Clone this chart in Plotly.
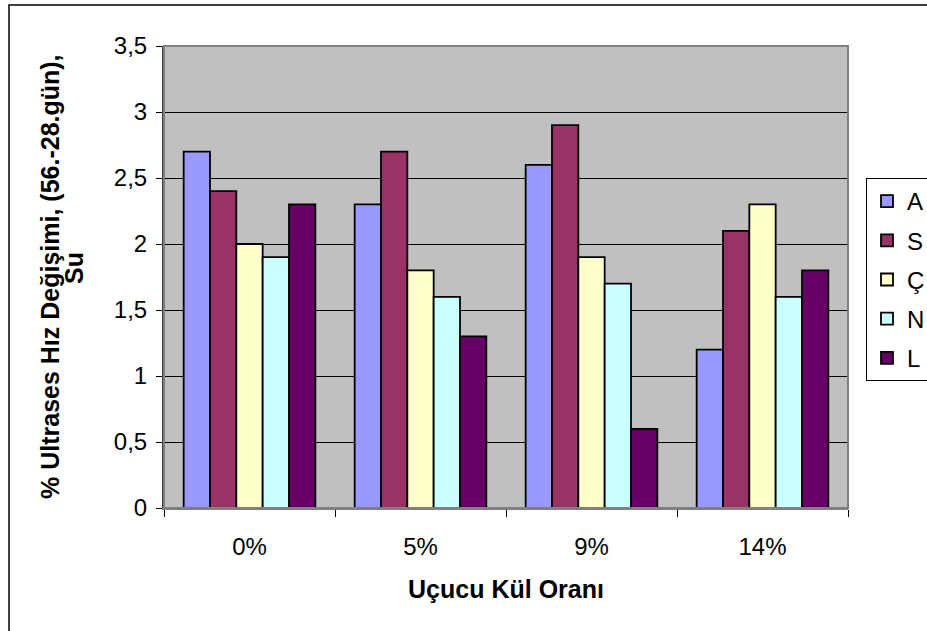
import plotly.graph_objects as go

categories = ["0%", "5%", "9%", "14%"]
series_names = ["A", "S", "Ç", "N", "L"]
values_A = [2.7, 2.3, 2.6, 1.2]
values_S = [2.4, 2.7, 2.9, 2.1]
values_C = [2.0, 1.8, 1.9, 2.3]
values_N = [1.9, 1.6, 1.7, 1.6]
values_L = [2.3, 1.3, 0.6, 1.8]
y_ticks = [0, 0.5, 1, 1.5, 2, 2.5, 3, 3.5]
y_title_lines = ["% Ultrases Hız Değişimi, (56.-28.gün),", "Su"]
x_title = "Uçucu Kül Oranı"

colors = ["#9999FF", "#993366", "#FFFFCC", "#CCFFFF", "#660066"]
all_values = [values_A, values_S, values_C, values_N, values_L]

fig = go.Figure()
for i, (name, vals) in enumerate(zip(series_names, all_values)):
    fig.add_trace(go.Bar(
        x=categories, y=vals, name=name, legendgroup=name,
        marker=dict(color=colors[i], line=dict(color="black", width=1.8)),
    ))

font = "Liberation Sans, Arial, sans-serif"
W, H = 927, 631
L, R, T, B = 164, 79, 46, 123
pw, ph = W - L - R, H - T - B


def px_x(x):
    return (x - L) / pw


def px_y(y):
    return (H - B - y) / ph


annotations = [
    dict(text="<b>%s</b>" % y_title_lines[0], textangle=-90, showarrow=False,
         xref="paper", yref="paper", x=px_x(50), y=0.5, xanchor="center", yanchor="middle",
         font=dict(size=25)),
    dict(text="<b>%s</b>" % y_title_lines[1], textangle=-90, showarrow=False,
         xref="paper", yref="paper", x=px_x(74), y=px_y(268), xanchor="center", yanchor="middle",
         font=dict(size=25)),
]

fig.update_layout(
    width=W, height=H,
    margin=dict(l=L, r=R, t=T, b=B),
    paper_bgcolor="white", plot_bgcolor="#C0C0C0",
    barmode="group", bargap=0.23, bargroupgap=0,
    separators=", ",
    font=dict(family=font, size=24, color="black"),
    showlegend=True,
    legend=dict(xref="container", yref="container", x=866 / W, y=1 - 178 / H,
                xanchor="left", yanchor="top",
                bordercolor="black", borderwidth=1, bgcolor="white",
                font=dict(size=24), tracegroupgap=5, traceorder="grouped",
                itemwidth=30, entrywidth=70),
    xaxis=dict(tickson="boundaries", ticks="outside", ticklen=7, tickcolor="black",
               showline=True, linecolor="#808080", linewidth=2,
               ticklabelstandoff=16, tickfont=dict(size=24),
               title=dict(text="<b>%s</b>" % x_title, standoff=22, font=dict(size=25))),
    yaxis=dict(range=[0, 3.5], tickvals=y_ticks, ticks="outside", ticklen=6, tickcolor="black",
               showgrid=True, gridcolor="black", gridwidth=1,
               showline=True, linecolor="#404040", linewidth=2,
               zeroline=False, tickfont=dict(size=24), ticklabelstandoff=4),
    annotations=annotations,
    shapes=[
        dict(type="rect", xref="paper", yref="paper", x0=0, y0=0, x1=1, y1=1,
             line=dict(color="#808080", width=2), layer="above"),
        dict(type="rect", xref="paper", yref="paper", x0=px_x(9), y0=-0.5, x1=1.5, y1=px_y(5),
             line=dict(color="black", width=1.5)),
    ],
)

fig.write_html("out.html", config={"displayModeBar": False},
               post_script="document.body.style.margin='0';document.body.style.overflow='hidden';")
